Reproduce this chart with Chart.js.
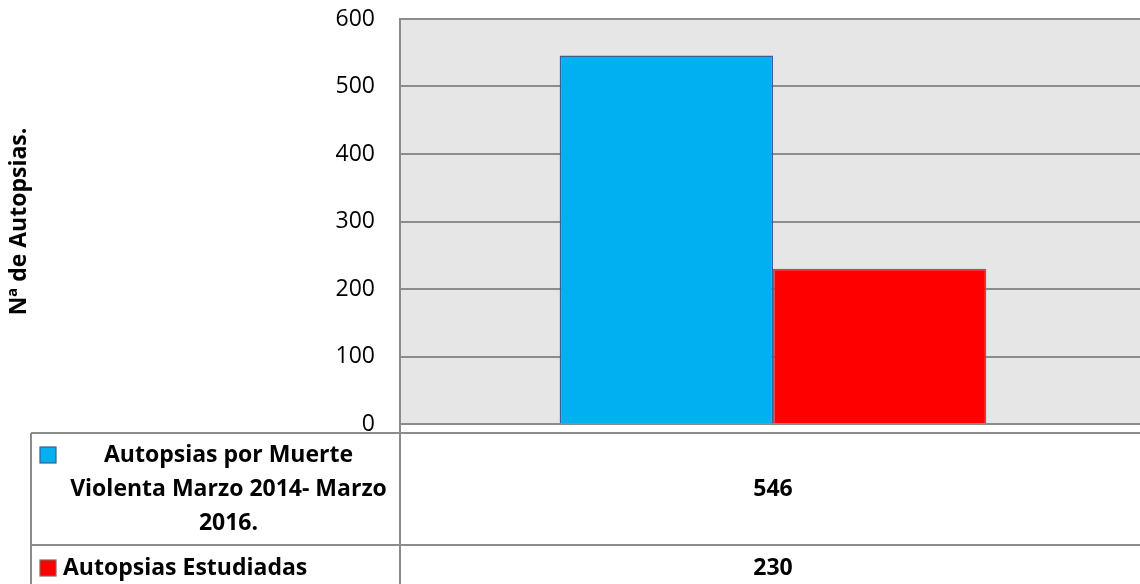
<!DOCTYPE html>
<html lang="es">
<head>
    <meta charset="UTF-8">
    <title>Autopsias</title>
    <script src="https://cdn.jsdelivr.net/npm/chart.js@4.4.1/dist/chart.umd.min.js"></script>
    <style>
        body { margin: 0; background: #fff; overflow: hidden; }
        #wrap { width: 1140px; height: 584px; overflow: hidden; }
    </style>
</head>
<body>
    <div id="wrap">
        <canvas id="chart" width="1146" height="584"></canvas>
    </div>

    <script>
        // Data
        const categories = [''];
        const seriesNames = ['Autopsias por Muerte Violenta Marzo 2014- Marzo 2016.', 'Autopsias Estudiadas'];
        const seriesValues = [[546], [230]];
        const seriesColors = ['#00b0f0', '#ff0000'];
        const seriesBorders = ['#3b5f8e', '#8a6262'];
        const yTicks = [0, 100, 200, 300, 400, 500, 600];
        const yTitle = 'Nª de Autopsias.';

        const lineColor = '#8c8c8c';
        const fontFamily = '"Open Sans", Lato, sans-serif';

        // grey plot background
        const plotBackground = {
            id: 'plotBackground',
            beforeDraw(chart) {
                const { ctx, chartArea: a } = chart;
                ctx.save();
                ctx.fillStyle = '#e6e6e6';
                ctx.fillRect(a.left, a.top, a.right - a.left, a.bottom - a.top);
                ctx.restore();
            }
        };

        function wrapText(ctx, text, maxWidth) {
            const words = text.split(' ');
            const lines = [];
            let line = '';
            words.forEach(w => {
                const test = line ? line + ' ' + w : w;
                if (ctx.measureText(test).width > maxWidth && line) {
                    lines.push(line);
                    line = w;
                } else {
                    line = test;
                }
            });
            if (line) lines.push(line);
            return lines;
        }

        // data table with legend keys under the plot
        const dataTable = {
            id: 'dataTable',
            afterDraw(chart) {
                const { ctx, chartArea: a } = chart;
                const xScale = chart.scales.x;
                const tableLeft = 31;
                const tableTop = a.bottom + 9;
                const rowHeights = [112, 46];
                const rightEdge = chart.width;

                ctx.save();
                ctx.strokeStyle = lineColor;
                ctx.lineWidth = 2;

                // horizontal lines
                let y = tableTop;
                ctx.beginPath();
                ctx.moveTo(tableLeft, y); ctx.lineTo(rightEdge, y);
                y += rowHeights[0];
                ctx.moveTo(tableLeft, y); ctx.lineTo(rightEdge, y);
                ctx.stroke();

                // vertical lines
                ctx.beginPath();
                ctx.moveTo(tableLeft, tableTop); ctx.lineTo(tableLeft, chart.height);
                ctx.moveTo(a.left, a.bottom); ctx.lineTo(a.left, chart.height);
                ctx.stroke();

                ctx.font = 'bold 23px ' + fontFamily;
                ctx.fillStyle = '#000';
                ctx.textBaseline = 'middle';

                let rowTop = tableTop;
                seriesNames.forEach((name, i) => {
                    const h = rowHeights[i];
                    const mid = rowTop + h / 2;
                    const textLeft = 60;
                    const textRight = a.left - 3;
                    const center = (textLeft + textRight) / 2;
                    const lines = wrapText(ctx, name, textRight - textLeft);
                    const lh = 34;
                    const firstY = mid - (lines.length - 1) * lh / 2;

                    // legend key next to the first line
                    ctx.fillStyle = seriesColors[i];
                    ctx.fillRect(40, firstY - 8, 16, 16);
                    ctx.lineWidth = 1.2;
                    ctx.strokeStyle = seriesBorders[i];
                    ctx.strokeRect(40, firstY - 8, 16, 16);

                    ctx.fillStyle = '#000';
                    if (lines.length === 1) {
                        ctx.textAlign = 'left';
                        ctx.fillText(lines[0], 63, firstY);
                    } else {
                        ctx.textAlign = 'center';
                        lines.forEach((ln, k) => ctx.fillText(ln, center, firstY + k * lh));
                    }

                    // values per category
                    ctx.textAlign = 'center';
                    categories.forEach((c, j) => {
                        ctx.fillText(String(seriesValues[i][j]), xScale.getPixelForValue(j), mid);
                    });
                    rowTop += h;
                });
                ctx.restore();
            }
        };

        new Chart(document.getElementById('chart'), {
            type: 'bar',
            data: {
                labels: categories,
                datasets: seriesNames.map((name, i) => ({
                    label: name,
                    data: seriesValues[i],
                    backgroundColor: seriesColors[i],
                    borderColor: seriesBorders[i],
                    borderWidth: 1.5,
                    categoryPercentage: 0.572,
                    barPercentage: 1
                }))
            },
            options: {
                responsive: false,
                animation: false,
                layout: { padding: { top: 19, bottom: 160, left: 0, right: 0 } },
                plugins: {
                    legend: { display: false },
                    tooltip: { enabled: false }
                },
                scales: {
                    x: {
                        grid: { display: false },
                        ticks: { display: false },
                        border: { display: true, color: lineColor, width: 2 },
                        afterFit(scale) { scale.height = 0; }
                    },
                    y: {
                        min: yTicks[0],
                        max: yTicks[yTicks.length - 1],
                        afterBuildTicks(scale) {
                            scale.ticks = yTicks.map(v => ({ value: v }));
                        },
                        afterFit(scale) {
                            scale.width = 400;
                            scale.paddingTop = 0;
                            scale.paddingBottom = 0;
                        },
                        grid: { color: lineColor, lineWidth: 2, drawTicks: false },
                        border: { display: true, color: lineColor, width: 2 },
                        ticks: {
                            padding: 25,
                            color: '#000',
                            font: { family: fontFamily, size: 23 }
                        },
                        title: {
                            display: true,
                            text: yTitle,
                            color: '#000',
                            padding: { top: 6, bottom: 0 },
                            font: { family: fontFamily, size: 23, weight: 'bold' }
                        }
                    }
                }
            },
            plugins: [plotBackground, dataTable]
        });
    </script>
</body>
</html>
